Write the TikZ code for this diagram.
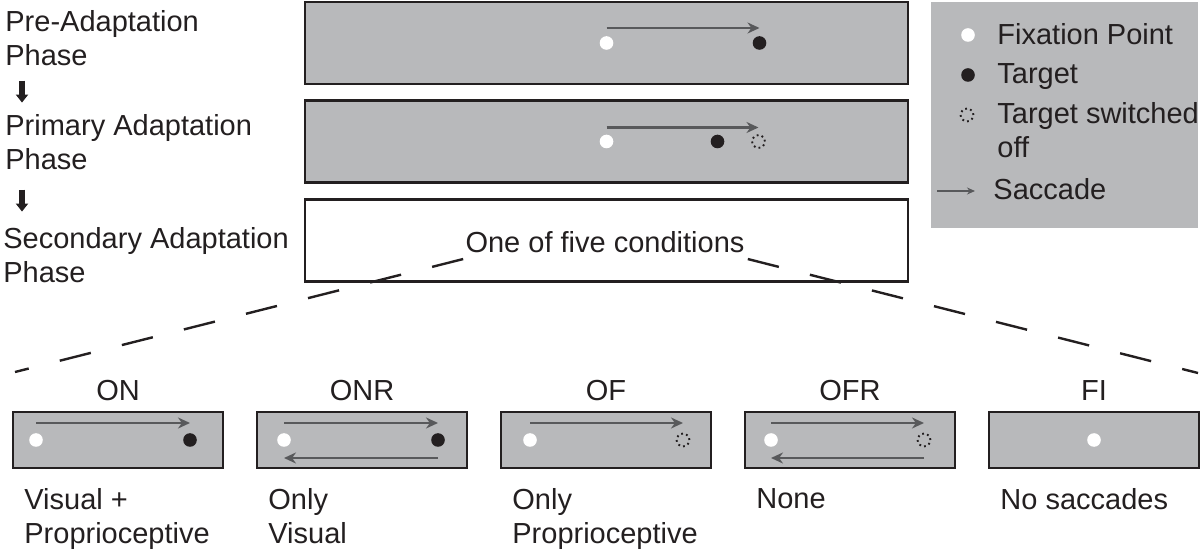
\documentclass[tikz,border=0pt]{standalone}
\usepackage{fontspec}
\setmainfont{Liberation Sans}
\usetikzlibrary{arrows.meta,positioning,calc}
\definecolor{Ink}{HTML}{231F20}
\definecolor{Panel}{HTML}{B8B9BB}
\definecolor{Trace}{HTML}{58595B}

\begin{document}
\begin{tikzpicture}[x=0.5pt,y=-0.5pt,
  txt/.style={inner sep=0pt,text=Ink,font=\fontsize{14.5}{17}\selectfont,align=left},
  phasebox/.style={draw=Ink,line width=1.3pt,minimum width=301.5pt,minimum height=41pt,inner sep=0pt},
  condbox/.style={draw=Ink,line width=1pt,fill=Panel,minimum width=105pt,minimum height=28pt,inner sep=0pt},
  fixdot/.style={circle,fill=white,inner sep=0pt,minimum size=6.8pt},
  tgtdot/.style={circle,fill=Ink,inner sep=0pt,minimum size=6.8pt},
  offdot/.style={circle,draw=Ink,line width=0.95pt,dash pattern=on 0.9pt off 1.6pt,inner sep=0pt,minimum size=6.4pt},
  sacc/.style={draw=Trace,line width=1.2pt,-{Stealth[length=6pt,width=5.5pt]}},
  legsacc/.style={draw=Trace,line width=0.8pt,-{Stealth[length=4pt,width=3.5pt]}},
  phasearr/.style={draw=Ink,line width=2.6pt,-{Triangle[length=4pt,width=6pt]}},
  fan/.style={draw=Ink,line width=1.2pt,dash pattern=on 16pt off 16pt}]
  \useasboundingbox (0,0) rectangle (1200,555);

  % phases on the left
  \node[txt,anchor=base west] (pre) at (5,66) {Pre-Adaptation\\Phase};
  \node[txt,anchor=base west] (prim) at (5,170) {Primary Adaptation\\Phase};
  \node[txt,anchor=base west] (sec) at (3,283) {Secondary Adaptation\\Phase};
  \draw[phasearr] ([xshift=8.5pt,yshift=-7pt]pre.south west) -- ([xshift=8.5pt,yshift=6pt]prim.north west);
  \draw[phasearr] ([xshift=8.5pt,yshift=-9.5pt]prim.south west) -- ([xshift=9.5pt,yshift=8pt]sec.north west);

  % phase panels
  \node[phasebox,fill=Panel] (preBox) at (606.5,43) {};
  \node[phasebox,fill=Panel] (primBox) at (606.5,141.5) {};
  \node[phasebox,fill=white] (secBox) at (606.5,240.5) {};

  \node[fixdot] (preF) at (preBox.center) {};
  \node[tgtdot] (preT) at ([xshift=76.5pt]preBox.center) {};
  \draw[sacc] ([yshift=7.5pt]preF.center) -- ([yshift=7.5pt]preT.center);

  \node[fixdot] (primF) at (primBox.center) {};
  \node[tgtdot] (primT) at ([xshift=55.5pt]primBox.center) {};
  \node[offdot] (primO) at ([xshift=76pt]primBox.center) {};
  \draw[sacc] ([yshift=7pt]primF.center) -- ([yshift=7pt]primO.center);

  \node[txt] (cond) at (605,242) {One of five conditions};

  % legend
  \node[fill=Panel,minimum width=133.5pt,minimum height=113pt,inner sep=0pt,anchor=north west] (legend) at (931,2) {};
  \node[fixdot] (legF) at (968,35) {};
  \node[txt,anchor=base west] (legFT) at (997,45) {Fixation Point};
  \node[tgtdot] (legT) at (968,75) {};
  \node[txt,anchor=base west] (legTT) at (997,84) {Target};
  \node[offdot] (legO) at (967,115) {};
  \node[txt,anchor=base west] (legOT) at (997,158) {Target switched\\off};
  \coordinate (legS) at (937,191);
  \node[txt,anchor=base west] (legST) at (993,200) {Saccade};
  \draw[legsacc] (legS) -- ($(legS -| legST.west)+(-9pt,0)$);

  % five conditions
  \foreach \nm/\ttl/\desc [count=\i from 0] in {on/ON/{Visual +\\Proprioceptive},onr/ONR/{Only\\Visual},of/OF/{Only\\Proprioceptive},ofr/OFR/None,fi/FI/No saccades}{
    \node[condbox] (\nm) at (118+244*\i,440) {};
    \node[txt,above=5pt of \nm] (\nm-ttl) {\ttl};
    \node[txt,anchor=north west] (\nm-desc) at ([xshift=6pt,yshift=-9.5pt]\nm.south west) {\desc};
  }

  \node[fixdot] (onF) at ([xshift=12pt]on.west) {};
  \node[tgtdot] (onT) at ([xshift=-17pt]on.east) {};
  \draw[sacc] ([yshift=8.5pt]onF.center) -- ([yshift=8.5pt]onT.center);

  \node[fixdot] (onrF) at ([xshift=14pt]onr.west) {};
  \node[tgtdot] (onrT) at ([xshift=-15pt]onr.east) {};
  \draw[sacc] ([yshift=8.5pt]onrF.center) -- ([yshift=8.5pt]onrT.center);
  \draw[sacc] ([yshift=-9pt]onrT.center) -- ([yshift=-9pt]onrF.center);

  \node[fixdot] (ofF) at ([xshift=15pt]of.west) {};
  \node[offdot] (ofO) at ([xshift=-14.5pt]of.east) {};
  \draw[sacc] ([yshift=8.5pt]ofF.center) -- ([yshift=8.5pt]ofO.center);

  \node[fixdot] (ofrF) at ([xshift=13.5pt]ofr.west) {};
  \node[offdot] (ofrO) at ([xshift=-16pt]ofr.east) {};
  \draw[sacc] ([yshift=8.5pt]ofrF.center) -- ([yshift=8.5pt]ofrO.center);
  \draw[sacc] ([yshift=-9pt]ofrO.center) -- ([yshift=-9pt]ofrF.center);

  \node[fixdot] (fiF) at (fi.center) {};

  % fan out to the conditions
  \coordinate (fanL) at (15,372);
  \coordinate (fanR) at (1198,373);
  \draw[fan] ([xshift=-1pt,yshift=-3pt]cond.south west) -- (fanL);
  \draw[fan] ([xshift=1.5pt,yshift=-3pt]cond.south east) -- (fanR);
\end{tikzpicture}
\end{document}
